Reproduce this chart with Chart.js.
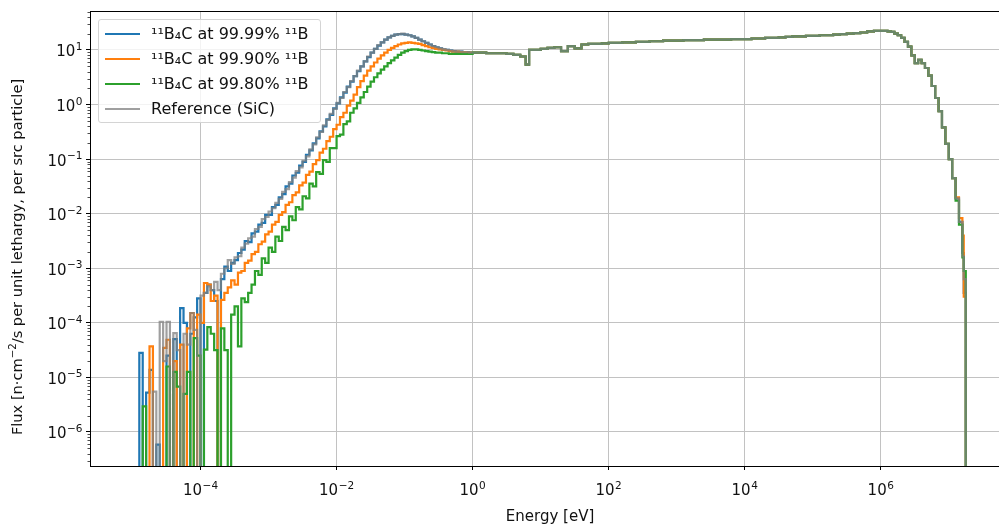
<!DOCTYPE html>
<html>
<head>
<meta charset="utf-8">
<title>Flux spectrum</title>
<script src="https://cdn.jsdelivr.net/npm/chart.js@4.4.1/dist/chart.umd.min.js"></script>
<style>
  html, body { margin: 0; padding: 0; background: #fff; overflow: hidden; }
  #wrap { position: relative; width: 999px; height: 529px; overflow: hidden; }
  #fluxChart { position: absolute; left: 0; top: 0; }
  .legend { position: absolute; left: 98px; top: 19px; width: 223px; height: 104px; box-sizing: border-box;
            border: 1px solid #d4d4d4; border-radius: 3px; background: rgba(255,255,255,0.8);
            font-family: "DejaVu Sans", sans-serif; font-size: 16px; color: #111; }
  .row { position: absolute; left: 0; height: 20px; width: 100%; }
  .row i { position: absolute; left: 6px; top: 9px; width: 35px; height: 2px; }
  .row span { position: absolute; left: 52px; top: 0; line-height: 20px; white-space: nowrap; }
</style>
</head>
<body>
<div id="wrap">
  <canvas id="fluxChart" width="1020" height="529"></canvas>
  <div class="legend" id="legend"></div>
</div>
<script>
// bin edges, log10(E / eV)
const logEdges = [
  -4.90,-4.85,-4.80,-4.75,-4.70,-4.65,-4.60,-4.55,-4.50,-4.45,
  -4.40,-4.35,-4.30,-4.25,-4.20,-4.15,-4.10,-4.05,-4.00,-3.95,
  -3.90,-3.85,-3.80,-3.75,-3.70,-3.65,-3.60,-3.55,-3.50,-3.45,
  -3.40,-3.35,-3.30,-3.25,-3.20,-3.15,-3.10,-3.05,-3.00,-2.95,
  -2.90,-2.85,-2.80,-2.75,-2.70,-2.65,-2.60,-2.55,-2.50,-2.45,
  -2.40,-2.35,-2.30,-2.25,-2.20,-2.15,-2.10,-2.05,-2.00,-1.95,
  -1.90,-1.85,-1.80,-1.75,-1.70,-1.65,-1.60,-1.55,-1.50,-1.45,
  -1.40,-1.35,-1.30,-1.25,-1.20,-1.15,-1.10,-1.05,-1.00,-0.95,
  -0.90,-0.85,-0.80,-0.75,-0.70,-0.65,-0.60,-0.55,-0.50,-0.45,
  -0.40,-0.35,-0.30,-0.25,-0.20,-0.15,-0.10,-0.05,
  0.0,0.1,0.2,0.3,0.4,0.5,0.6,0.7,0.78,0.83,0.9,
  1.0,1.1,1.2,1.3,1.4,1.5,1.6,1.7,1.8,1.9,
  2.0,2.1,2.2,2.3,2.4,2.5,2.6,2.7,2.8,2.9,
  3.0,3.1,3.2,3.3,3.4,3.5,3.6,3.7,3.8,3.9,
  4.0,4.1,4.2,4.3,4.4,4.5,4.6,4.7,4.8,4.9,
  5.0,5.1,5.2,5.3,5.4,5.5,5.6,5.7,5.8,5.9,
  6.00,6.05,6.10,6.15,6.20,6.25,6.30,6.35,6.40,6.45,
  6.50,6.55,6.60,6.65,6.70,6.75,6.80,6.85,6.90,6.95,
  7.00,7.05,7.10,7.15,7.20,7.22,7.25
];

// log10 of flux per bin, below 1 eV (null = no tally, zero flux)
const blueLow = [
  -4.55,null,-5.28,-4.86,null,-6.23,null,null,-4.6,null,
  -4.3,null,-3.73,-4.0,null,-4.2,-3.9,-3.55,null,-3.45,
  -3.3,-3.4,-3.6,null,-3.2,-2.97,-3.05,-2.9,-2.85,-2.72,
  -2.66,-2.5,-2.52,-2.36,-2.33,-2.2,-2.17,-2.02,-2.02,-1.88,
  -1.84,-1.7,-1.64,-1.5,-1.45,-1.3,-1.25,-1.12,-1.05,-0.92,
  -0.84,-0.71,-0.62,-0.49,-0.4,-0.27,-0.19,-0.07,0.02,0.13,
  0.22,0.33,0.42,0.52,0.61,0.70,0.79,0.87,0.95,1.02,
  1.08,1.14,1.19,1.23,1.26,1.28,1.29,1.29,1.28,1.27,
  1.25,1.22,1.19,1.16,1.13,1.10,1.07,1.05,1.03,1.01,
  1.00,0.99,0.98,0.97,0.97,0.96,0.96,0.95
];
const orangeLow = [
  null,null,null,-4.43,null,null,null,-4.46,-4.31,null,
  -4.7,null,-4.4,null,-4.1,-3.82,null,-3.85,-4.0,-3.27,
  -3.3,-3.6,-3.5,null,-3.58,-3.45,-3.35,-3.22,-3.3,-3.08,
  -3.05,-2.9,-2.86,-2.74,-2.7,-2.56,-2.51,-2.38,-2.33,-2.2,
  -2.15,-2.02,-1.97,-1.84,-1.79,-1.66,-1.61,-1.48,-1.43,-1.29,
  -1.23,-1.09,-1.02,-0.88,-0.81,-0.67,-0.59,-0.45,-0.37,-0.23,
  -0.15,-0.02,0.07,0.18,0.32,0.43,0.53,0.62,0.70,0.77,
  0.84,0.90,0.95,1.00,1.04,1.07,1.10,1.12,1.13,1.14,
  1.13,1.12,1.11,1.09,1.07,1.05,1.04,1.02,1.01,1.00,
  0.99,0.98,0.97,0.97,0.96,0.96,0.95,0.95
];
const greenLow = [
  null,-5.53,null,null,null,null,null,null,-4.8,null,
  -4.9,-5.17,null,-5.3,-4.9,null,-4.28,-4.6,null,-4.49,
  -4.08,-4.2,-4.5,null,-4.1,-4.5,null,-3.85,-3.7,-4.43,
  -3.55,-3.62,-3.45,-3.3,-3.05,-3.12,-2.82,-2.9,-2.62,-2.7,
  -2.42,-2.5,-2.24,-2.3,-2.05,-2.12,-1.88,-1.92,-1.68,-1.72,
  -1.45,-1.5,-1.24,-1.27,-1.02,-1.05,-0.8,-0.8,-0.58,-0.55,
  -0.36,-0.31,-0.15,-0.07,0.03,0.13,0.23,0.33,0.42,0.50,
  0.57,0.64,0.70,0.76,0.81,0.86,0.91,0.95,0.98,1.00,
  1.01,1.01,1.00,0.99,0.98,0.97,0.96,0.95,0.95,0.94,
  0.94,0.93,0.93,0.93,0.93,0.93,0.93,0.93
];
const refLow = [
  null,null,null,null,-5.26,null,-3.98,-4.7,-3.98,null,
  -4.19,-4.5,null,-4.2,-4.4,-3.82,-4.13,null,-3.5,-3.45,
  -3.33,-3.4,-3.25,-3.4,-3.1,-3.0,-2.85,-2.92,-2.8,-2.78,
  -2.62,-2.55,-2.45,-2.42,-2.28,-2.24,-2.1,-2.06,-1.96,-1.9,
  -1.8,-1.73,-1.6,-1.55,-1.42,-1.34,-1.22,-1.15,-1.03,-0.95,
  -0.82,-0.73,-0.6,-0.5,-0.38,-0.28,-0.17,-0.08,0.03,0.12,
  0.23,0.32,0.43,0.52,0.62,0.70,0.79,0.88,0.95,1.02,
  1.09,1.14,1.19,1.23,1.26,1.28,1.29,1.30,1.28,1.27,
  1.25,1.22,1.19,1.16,1.13,1.10,1.07,1.05,1.03,1.01,
  1.00,0.99,0.98,0.97,0.97,0.96,0.96,0.95
];
// 1 eV to ~11 MeV: all four cases overlap
const sharedHigh = [
  0.95,0.95,0.94,0.94,0.94,0.93,0.91,0.88,0.73,1.00,1.00,
  1.02,1.04,1.05,0.98,1.07,1.03,1.10,1.11,1.11,1.12,
  1.13,1.13,1.14,1.14,1.15,1.15,1.16,1.16,1.17,1.17,
  1.17,1.18,1.18,1.18,1.19,1.19,1.19,1.19,1.20,1.20,
  1.20,1.21,1.21,1.22,1.22,1.23,1.24,1.25,1.25,1.26,
  1.26,1.27,1.27,1.28,1.29,1.30,1.31,1.32,1.34,1.35,
  1.35,1.35,1.34,1.33,1.30,1.27,1.22,1.15,1.06,0.90,
  0.76,0.82,0.76,0.67,0.53,0.34,0.12,-0.12,-0.42,-0.72,
  -1.00,-1.35
];
const blueTail = [-1.72, -2.15, -2.72, -3.45];
const orangeTail = [-1.70, -2.08, -2.40, -3.52];
const greenTail = [-1.76, -2.20, -2.80, -3.05];
const refTail = [-1.72, -2.15, -2.78, -3.20];

const seriesNames = ['¹¹B₄C at 99.99% ¹¹B', '¹¹B₄C at 99.90% ¹¹B', '¹¹B₄C at 99.80% ¹¹B', 'Reference (SiC)'];
const seriesColors = ['#1f77b4', '#ff7f0e', '#2ca02c', 'rgba(127,127,127,0.75)'];
const xTickPowers = [-4, -2, 0, 2, 4, 6];
const yTickPowers = [-6, -5, -4, -3, -2, -1, 0, 1];
const xTitle = 'Energy [eV]';
const yTitleParts = ['Flux [n·cm', '−2', '/s per unit lethargy, per src particle]'];

const ZERO_FLOOR = 1e-9; // zero flux on a log axis: drawn below the frame
const FAMILY = '"DejaVu Sans", sans-serif';
Chart.defaults.font.family = FAMILY;

function toPoints(logFlux) {
    const pts = [{ x: 10 ** logEdges[0], y: ZERO_FLOOR }];
    logFlux.forEach((v, i) => pts.push({ x: 10 ** logEdges[i], y: v === null ? ZERO_FLOOR : 10 ** v }));
    pts.push({ x: 10 ** logEdges[logEdges.length - 1], y: ZERO_FLOOR });
    return pts;
}

const allFlux = [
    [...blueLow, ...sharedHigh, ...blueTail],
    [...orangeLow, ...sharedHigh, ...orangeTail],
    [...greenLow, ...sharedHigh, ...greenTail],
    [...refLow, ...sharedHigh, ...refTail]
];
allFlux.forEach((f, i) => { if (f.length !== logEdges.length - 1) console.warn('bin count', i, f.length); });

const datasets = allFlux.map((f, i) => ({
    label: seriesNames[i],
    data: toPoints(f),
    borderColor: seriesColors[i],
    borderWidth: 2.2,
    pointRadius: 0,
    fill: false,
    stepped: 'before',
    clip: 0,
    order: 4 - i   // reference drawn last, on top
}));

// "10" with a raised exponent, mathtext style
function drawPow(ctx, p, x, baseline, align) {
    const base = '10', exp = p < 0 ? '−' + (-p) : String(p);
    ctx.font = '15px ' + FAMILY;
    const wb = ctx.measureText(base).width;
    ctx.font = '10.5px ' + FAMILY;
    const we = ctx.measureText(exp).width;
    const total = wb + we + 0.5;
    let x0 = align === 'center' ? x - total / 2 : x - total;
    ctx.textAlign = 'left';
    ctx.textBaseline = 'alphabetic';
    ctx.font = '15px ' + FAMILY;
    ctx.fillText(base, x0, baseline);
    ctx.font = '10.5px ' + FAMILY;
    ctx.fillText(exp, x0 + wb + 0.5, baseline - 6.5);
}

// frame on top of the lines, minor y ticks, tick labels, axis titles
const axesPlugin = {
    id: 'axesDecor',
    afterDatasetsDraw(chart) {
        const { ctx, chartArea: a, scales: { x, y } } = chart;
        ctx.save();
        ctx.strokeStyle = '#000';
        ctx.lineWidth = 1;
        ctx.strokeRect(a.left + 0.5, a.top + 0.5, a.right - a.left, a.bottom - a.top);
        ctx.lineWidth = 0.7;
        ctx.beginPath();
        for (let d = -7; d <= 1; d++) {
            for (let m = 2; m <= 9; m++) {
                const v = m * 10 ** d;
                if (v <= y.min || v >= y.max) continue;
                const py = Math.round(y.getPixelForValue(v)) + 0.5;
                ctx.moveTo(a.left - 2.5, py);
                ctx.lineTo(a.left, py);
            }
        }
        ctx.stroke();

        ctx.fillStyle = '#111';
        xTickPowers.forEach(p => drawPow(ctx, p, x.getPixelForValue(10 ** p), a.bottom + 29, 'center'));
        yTickPowers.forEach(p => drawPow(ctx, p, a.left - 7.5, y.getPixelForValue(10 ** p) + 6.5, 'right'));

        // x title
        ctx.font = '15px ' + FAMILY;
        ctx.textAlign = 'center';
        ctx.textBaseline = 'middle';
        ctx.fillText(xTitle, (a.left + a.right) / 2, 517);

        // y title, rotated, with a raised exponent
        ctx.translate(18, 257);
        ctx.rotate(-Math.PI / 2);
        ctx.textAlign = 'left';
        ctx.textBaseline = 'middle';
        ctx.font = '14.6px ' + FAMILY;
        const w0 = ctx.measureText(yTitleParts[0]).width;
        const w2 = ctx.measureText(yTitleParts[2]).width;
        ctx.font = '10.2px ' + FAMILY;
        const w1 = ctx.measureText(yTitleParts[1]).width;
        let tx = -(w0 + w1 + w2) / 2;
        ctx.font = '14.6px ' + FAMILY;
        ctx.fillText(yTitleParts[0], tx, 0);
        ctx.font = '10.2px ' + FAMILY;
        ctx.fillText(yTitleParts[1], tx + w0, -5);
        ctx.font = '14.6px ' + FAMILY;
        ctx.fillText(yTitleParts[2], tx + w0 + w1, 0);
        ctx.restore();
    }
};

new Chart(document.getElementById('fluxChart').getContext('2d'), {
    type: 'line',
    data: { datasets },
    options: {
        responsive: false,
        animation: false,
        devicePixelRatio: 1,
        layout: { padding: { top: 11, right: 10, left: 0, bottom: 0 } },
        plugins: { legend: { display: false }, tooltip: { enabled: false } },
        scales: {
            x: {
                type: 'logarithmic',
                min: 10 ** -5.625,
                max: 10 ** 7.9,
                afterBuildTicks: s => { s.ticks = xTickPowers.map(p => ({ value: 10 ** p })); },
                afterFit: s => { s.height = 63; },
                ticks: { display: false },
                grid: { color: '#c2c2c2', lineWidth: 1, tickColor: '#000', tickLength: 4 },
                border: { display: false }
            },
            y: {
                type: 'logarithmic',
                min: 10 ** -6.623,
                max: 10 ** 1.714,
                afterBuildTicks: s => { s.ticks = yTickPowers.map(p => ({ value: 10 ** p })); },
                afterFit: s => { s.width = 90; },
                ticks: { display: false },
                grid: { color: '#c2c2c2', lineWidth: 1, tickColor: '#000', tickLength: 4 },
                border: { display: false }
            }
        }
    },
    plugins: [axesPlugin]
});

// legend box in the upper-left corner of the axes
const legend = document.getElementById('legend');
seriesNames.forEach((name, i) => {
    const row = document.createElement('div');
    row.className = 'row';
    row.style.top = (4 + i * 25) + 'px';
    row.innerHTML = '<i style="background:' + seriesColors[i] + '"></i><span>' + name + '</span>';
    legend.appendChild(row);
});
</script>
</body>
</html>
